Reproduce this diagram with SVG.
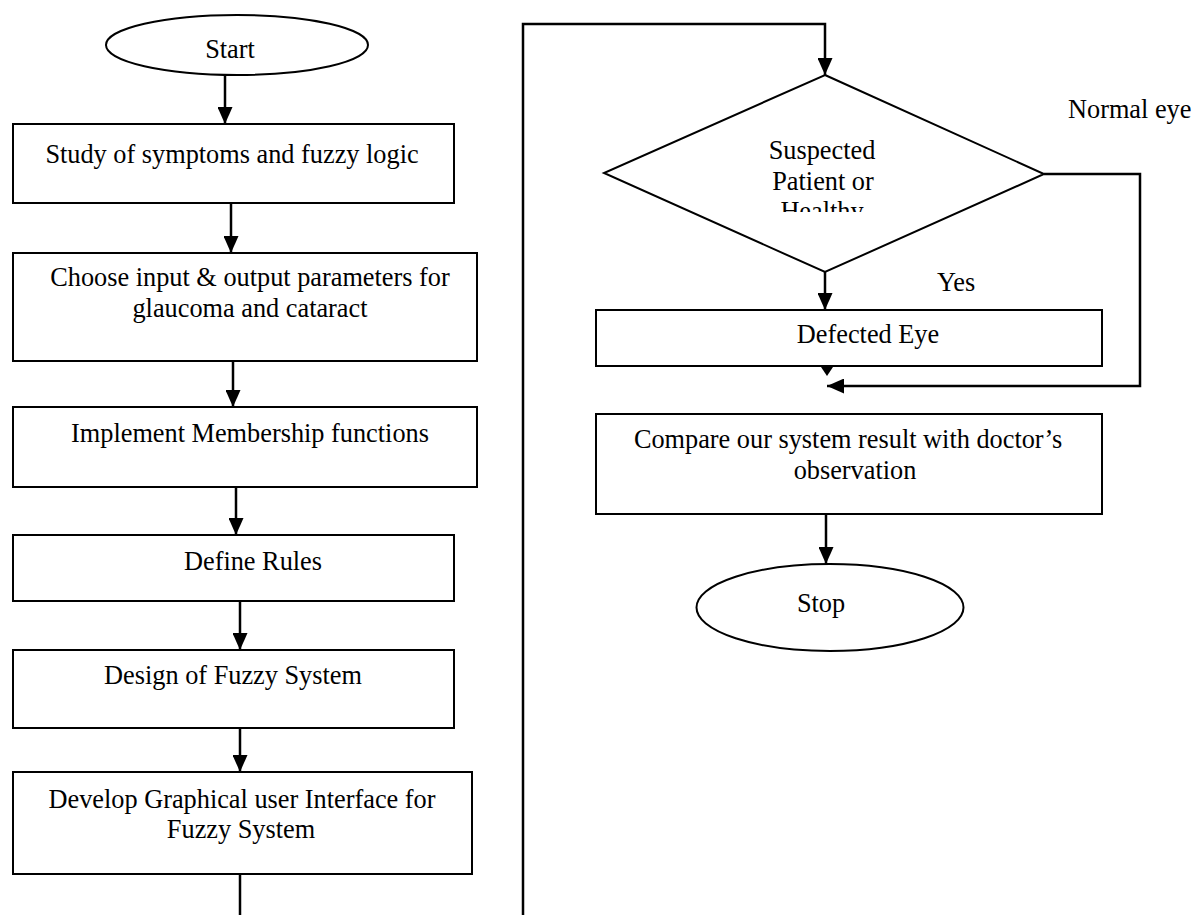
<svg xmlns="http://www.w3.org/2000/svg" width="1193" height="915" viewBox="0 0 1193 915">
<style>
  .shape{fill:#fff;stroke:#000;stroke-width:2}
  .conn{fill:none;stroke:#000;stroke-width:2.5}
  text{font-family:"Liberation Serif","Times New Roman",serif;font-size:26.3px;fill:#000}
  .c{text-anchor:middle}
</style>
<defs>
  <marker id="ah" viewBox="0 0 17 15" refX="17" refY="7.5" markerWidth="17" markerHeight="15" markerUnits="userSpaceOnUse" orient="auto">
    <path d="M0,0 L17,7.5 L0,15 Z" fill="#000"/>
  </marker>
  <clipPath id="dclip"><rect x="700" y="120" width="250" height="92"/></clipPath>
</defs>
<rect width="1193" height="915" fill="#fff"/>

<g id="connectors">
  <line class="conn" x1="225" y1="75" x2="225" y2="124" marker-end="url(#ah)"/>
  <line class="conn" x1="231" y1="203" x2="231" y2="253" marker-end="url(#ah)"/>
  <line class="conn" x1="233" y1="361" x2="233" y2="407" marker-end="url(#ah)"/>
  <line class="conn" x1="236" y1="487" x2="236" y2="535" marker-end="url(#ah)"/>
  <line class="conn" x1="240" y1="601" x2="240" y2="650" marker-end="url(#ah)"/>
  <line class="conn" x1="240" y1="728" x2="240" y2="772" marker-end="url(#ah)"/>
  <line class="conn" x1="240" y1="874" x2="240" y2="915"/>
  <path class="conn" d="M523,915 V24 H825 V75" marker-end="url(#ah)"/>
  <line class="conn" x1="825" y1="272" x2="825" y2="310" marker-end="url(#ah)"/>
  <path class="conn" d="M1044,174 H1140 V386 H827" stroke-width="3" marker-end="url(#ah)"/>
  <path d="M821,367 L833,367 L827,376 Z" fill="#000"/>
  <line class="conn" x1="826" y1="514" x2="826" y2="564" marker-end="url(#ah)"/>
  <text x="1068" y="118">Normal eye</text>
  <text x="937" y="291">Yes</text>
</g>

<g id="start">
  <ellipse class="shape" cx="237" cy="45" rx="131" ry="30"/>
  <text class="c" x="230" y="58">Start</text>
</g>
<g id="study">
  <rect class="shape" x="13" y="124" width="441" height="79"/>
  <text class="c" x="232" y="163">Study of symptoms and fuzzy logic</text>
</g>
<g id="choose">
  <rect class="shape" x="13" y="253" width="464" height="108"/>
  <text class="c" x="250" y="286">Choose input &amp; output parameters for</text>
  <text class="c" x="250" y="317">glaucoma and cataract</text>
</g>
<g id="implement">
  <rect class="shape" x="13" y="407" width="464" height="80"/>
  <text class="c" x="250" y="442">Implement Membership functions</text>
</g>
<g id="rules">
  <rect class="shape" x="13" y="535" width="441" height="66"/>
  <text class="c" x="253" y="570">Define Rules</text>
</g>
<g id="design">
  <rect class="shape" x="13" y="650" width="441" height="78"/>
  <text class="c" x="233" y="684">Design of Fuzzy System</text>
</g>
<g id="gui">
  <rect class="shape" x="13" y="772" width="459" height="102"/>
  <text class="c" x="242" y="808">Develop Graphical user Interface for</text>
  <text class="c" x="241" y="838">Fuzzy System</text>
</g>

<g id="decision">
  <polygon class="shape" points="825,75 1044,174 825,272 604,173"/>
  <g clip-path="url(#dclip)">
    <text class="c" x="822" y="159">Suspected</text>
    <text class="c" x="823" y="189.5">Patient or</text>
    <text class="c" x="822" y="220">Healthy</text>
  </g>
</g>
<g id="defected">
  <rect class="shape" x="596" y="310" width="506" height="56"/>
  <text class="c" x="868" y="343">Defected Eye</text>
</g>
<g id="compare">
  <rect class="shape" x="596" y="414" width="506" height="100"/>
  <text class="c" x="848" y="448">Compare our system result with doctor’s</text>
  <text class="c" x="855" y="479">observation</text>
</g>
<g id="stop">
  <ellipse class="shape" cx="830" cy="607.5" rx="133.5" ry="43.5"/>
  <text class="c" x="821" y="612">Stop</text>
</g>
</svg>
